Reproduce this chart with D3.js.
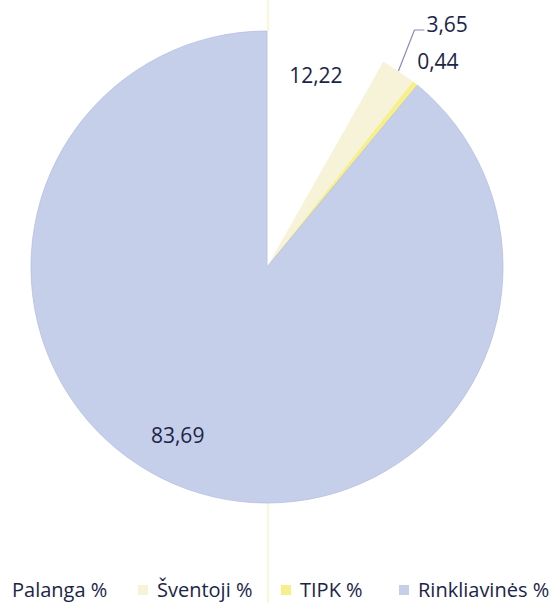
<!DOCTYPE html>
<html>
<head>
<meta charset="utf-8">
<script src="https://cdn.jsdelivr.net/npm/d3@7"></script>
<style>
  body { margin: 0; background: #fff; }
  svg { display: block; }
  text { font-family: "Open Sans", sans-serif; fill: #1c2548; }
</style>
</head>
<body>
<svg id="pieChart" width="555" height="603"></svg>
<script>
// categories and values
const categories = ["Palanga %", "Šventoji %", "TIPK %", "Rinkliavinės %"];
const pctLabels = ["12,22", "3,65", "0,44", "83,69"];
// slice sizes as they are drawn in the picture (the wedges are not to scale with the labels)
const sliceShare = [8.2, 2.4, 0.4, 89.0];
const colors = ["#ffffff", "#f6f3d8", "#f6ef8a", "#c6cfea"];

const svg = d3.select("svg#pieChart");
const cx = 267, cy = 267, radius = 236;

// faint scan line through the page
svg.append("line")
    .attr("x1", 268).attr("x2", 268)
    .attr("y1", 0).attr("y2", 603)
    .attr("stroke", "#faf6d6")
    .attr("stroke-width", 2);

const data = categories.map((c, i) => ({
  name: c,
  label: pctLabels[i],
  share: sliceShare[i],
  color: colors[i]
}));

const pie = d3.pie().sort(null).value(d => d.share);
const arc = d3.arc().innerRadius(0).outerRadius(radius);
const arcs = pie(data);

const g = svg.append("g").attr("transform", `translate(${cx},${cy})`);

g.selectAll("path.slice")
    .data(arcs)
    .join("path")
    .attr("class", "slice")
    .attr("d", arc)
    .attr("fill", d => d.data.color)
    .attr("stroke", d => d.index === 3 ? "#b4bfe2" : "none")
    .attr("stroke-width", 0.8);

const midAngle = d => (d.startAngle + d.endAngle) / 2;

// Palanga: inside the wedge
const lblArc = d3.arc().innerRadius(radius * 0.78).outerRadius(radius * 0.78);
const a0 = arcs[0];
g.append("text")
    .attr("x", lblArc.centroid(a0)[0] + 2)
    .attr("y", lblArc.centroid(a0)[1] - 6)
    .attr("text-anchor", "middle")
    .attr("font-size", 21)
    .text(a0.data.label);

// Šventoji: outside with a leader line
const a1 = arcs[1];
const m1 = midAngle(a1);
const edge1 = [Math.sin(m1) * radius, -Math.cos(m1) * radius];
const knee1 = [edge1[0] + 16, -cy + 30];
g.append("polyline")
    .attr("points", [edge1, knee1, [knee1[0] + 10, knee1[1]]].map(p => p.join(",")).join(" "))
    .attr("fill", "none")
    .attr("stroke", "#8f86b8")
    .attr("stroke-width", 1.2);
g.append("text")
    .attr("x", knee1[0] + 12)
    .attr("y", knee1[1] + 2)
    .attr("font-size", 21)
    .text(a1.data.label);

// TIPK: outside, just past the rim
const a2 = arcs[2];
const m2 = midAngle(a2);
g.append("text")
    .attr("x", Math.sin(m2) * radius + 2)
    .attr("y", -Math.cos(m2) * radius - 14)
    .attr("font-size", 21)
    .text(a2.data.label);

// Rinkliavinės: inside the big slice
const a3 = arcs[3];
const m3 = midAngle(a3);
g.append("text")
    .attr("x", Math.sin(m3) * radius * 0.78 - 27)
    .attr("y", -Math.cos(m3) * radius * 0.78 + 3)
    .attr("text-anchor", "middle")
    .attr("font-size", 21)
    .text(a3.data.label);

// legend
const legendX = [12, 157, 300, 418];
const legendY = 597;
const legend = svg.append("g").attr("class", "legend");
data.forEach((d, i) => {
  if (i > 0) {
    legend.append("rect")
        .attr("x", legendX[i] - 19)
        .attr("y", legendY - 12)
        .attr("width", 10)
        .attr("height", 10)
        .attr("fill", d.color);
  }
  legend.append("text")
      .attr("x", legendX[i])
      .attr("y", legendY)
      .attr("font-size", 20)
      .text(d.name);
});
</script>
</body>
</html>
